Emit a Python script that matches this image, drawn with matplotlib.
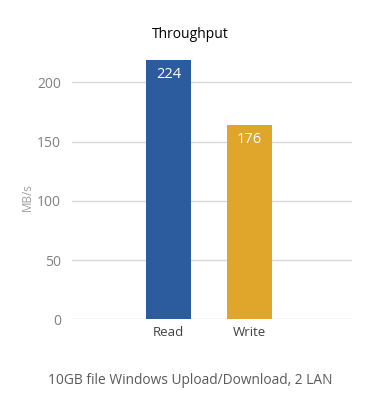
import matplotlib
matplotlib.use("Agg")
import matplotlib.pyplot as plt

categories = ["Read", "Write"]
bar_values = [219, 164]
value_labels = ["224", "176"]
colors = ["#2C5B9E", "#E0A62C"]
yticks = [0, 50, 100, 150, 200]

plt.rcParams['font.family'] = ['Open Sans', 'DejaVu Sans']

fig = plt.figure(figsize=(3.81, 4.20), dpi=100)
ax = fig.add_axes([72/381, 1-319.3/420, (352-72)/381, (319.3-52.9)/420])

x = list(range(len(categories)))
bars = ax.bar(x, bar_values, width=0.56, color=colors, zorder=3)
for b, lab in zip(bars, value_labels):
    ax.text(b.get_x() + b.get_width()/2, b.get_height() - 6, lab,
            ha='center', va='top', color='white', fontsize=10.5, zorder=4)

ax.set_xlim(-1.2, 2.27)
ax.set_ylim(0, 225)
ax.set_yticks(yticks)
ax.set_xticks(x)
ax.set_xticklabels(categories, color='#404040', fontsize=9.5)
ax.tick_params(axis='y', colors='#808080', labelsize=10, length=0, pad=8)
ax.tick_params(axis='x', length=0, pad=5)
ax.grid(axis='y', color='#D9D9D9', linewidth=1, zorder=0)
for s in ax.spines.values():
    s.set_visible(False)

fig.text(0.5, 1-35/420, "Throughput", ha='center', va='center', fontsize=10, color='black')
fig.text(27/381, 1-197/420, "MB/s", ha='center', va='center', rotation=90, fontsize=8.5, color='#A0A0A0')
fig.text(0.5, 1-380/420, "10GB file Windows Upload/Download, 2 LAN", ha='center', va='center', fontsize=9.9, color='#595959')

fig.savefig("out.png", dpi=100)
